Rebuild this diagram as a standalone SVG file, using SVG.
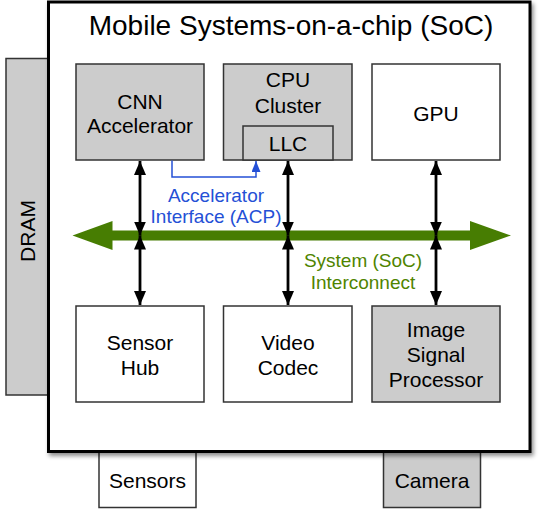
<svg xmlns="http://www.w3.org/2000/svg" width="540" height="514" viewBox="0 0 540 514">
  <style>
    .box { stroke: #333; stroke-width: 1.5; }
    .gray { fill: #cccccc; }
    .white { fill: #ffffff; }
    .lbl { font-family: "Liberation Sans", Arial, Helvetica, sans-serif; font-size: 21px; fill: #000; text-anchor: middle; }
    .title { font-family: "Liberation Sans", Arial, Helvetica, sans-serif; font-size: 28px; fill: #000; text-anchor: middle; }
    .blue { font-family: "Liberation Sans", Arial, Helvetica, sans-serif; font-size: 19px; fill: #2450d6; text-anchor: middle; }
    .green { font-family: "Liberation Sans", Arial, Helvetica, sans-serif; font-size: 19px; fill: #4f8400; text-anchor: middle; }
    .bi { stroke: #000; stroke-width: 2.8; fill: none; marker-start: url(#ah); marker-end: url(#ah); }
  </style>
  <defs>
    <marker id="ah" viewBox="0 0 14 12" refX="14" refY="6" markerWidth="14" markerHeight="12" markerUnits="userSpaceOnUse" orient="auto-start-reverse">
      <path d="M0,0 L14,6 L0,12 z" fill="#000"/>
    </marker>
    <marker id="bh" viewBox="0 0 11 9" refX="11" refY="4.5" markerWidth="11" markerHeight="9" markerUnits="userSpaceOnUse" orient="auto">
      <path d="M0,0 L11,4.5 L0,9 z" fill="#2450d6"/>
    </marker>
    <filter id="shadow" x="-5%" y="-5%" width="110%" height="110%">
      <feDropShadow dx="2" dy="3" stdDeviation="2" flood-color="#000" flood-opacity="0.45"/>
    </filter>
  </defs>

  <g id="dram">
    <rect class="box gray" x="6" y="58.5" width="44" height="336.5"/>
    <text class="lbl" transform="translate(35,231) rotate(-90)">DRAM</text>
  </g>
  <g id="sensors">
    <rect class="box white" x="99" y="440" width="97" height="67.5"/>
    <text class="lbl" x="147.5" y="488">Sensors</text>
  </g>
  <g id="camera">
    <rect class="box gray" x="383.5" y="440" width="97" height="67.5"/>
    <text class="lbl" x="432" y="488">Camera</text>
  </g>

  <g id="soc">
    <rect x="48.5" y="2" width="481.5" height="449.5" fill="#fff" stroke="#000" stroke-width="3" filter="url(#shadow)"/>
    <text class="title" x="291" y="35">Mobile Systems-on-a-chip (SoC)</text>
  </g>

  <g id="cnn">
    <rect class="box gray" x="76" y="64" width="128" height="96"/>
    <text class="lbl" x="140" y="109">CNN</text>
    <text class="lbl" x="140" y="133">Accelerator</text>
  </g>
  <g id="cpu">
    <rect class="box gray" x="223.5" y="64" width="128.5" height="96"/>
    <text class="lbl" x="288" y="87">CPU</text>
    <text class="lbl" x="288" y="113">Cluster</text>
  </g>
  <g id="llc">
    <rect class="box gray" x="243" y="126" width="90" height="34"/>
    <text class="lbl" x="288" y="151">LLC</text>
  </g>
  <g id="gpu">
    <rect class="box white" x="372" y="64" width="128" height="96"/>
    <text class="lbl" x="436" y="121">GPU</text>
  </g>
  <g id="sensorhub">
    <rect class="box white" x="76" y="306" width="128" height="96"/>
    <text class="lbl" x="140" y="350">Sensor</text>
    <text class="lbl" x="140" y="375">Hub</text>
  </g>
  <g id="videocodec">
    <rect class="box white" x="223.5" y="306" width="128.5" height="96"/>
    <text class="lbl" x="288" y="350">Video</text>
    <text class="lbl" x="288" y="375">Codec</text>
  </g>
  <g id="isp">
    <rect class="box gray" x="372" y="306" width="128" height="96"/>
    <text class="lbl" x="436" y="337">Image</text>
    <text class="lbl" x="436" y="362">Signal</text>
    <text class="lbl" x="436" y="387">Processor</text>
  </g>

  <g id="interconnect">
    <polygon points="72.5,235.5 112.5,221 112.5,230.5 470,230.5 470,221 511,235.5 470,250 470,240.5 112.5,240.5 112.5,250" fill="#477d02"/>
    <text class="green" x="363" y="267">System (SoC)</text>
    <text class="green" x="363" y="289">Interconnect</text>
  </g>

  <g id="connectors">
    <line class="bi" x1="140" y1="161" x2="140" y2="235.5"/>
    <line class="bi" x1="288" y1="161" x2="288" y2="235.5"/>
    <line class="bi" x1="436" y1="161" x2="436" y2="235.5"/>
    <line class="bi" x1="140" y1="235.5" x2="140" y2="305"/>
    <line class="bi" x1="288" y1="235.5" x2="288" y2="305"/>
    <line class="bi" x1="436" y1="235.5" x2="436" y2="305"/>
    <polyline points="172,160.5 172,177 256,177 256,161" fill="none" stroke="#2450d6" stroke-width="1.5" marker-end="url(#bh)"/>
    <text class="blue" x="216" y="202">Accelerator</text>
    <text class="blue" x="216" y="223">Interface (ACP)</text>
  </g>
</svg>
